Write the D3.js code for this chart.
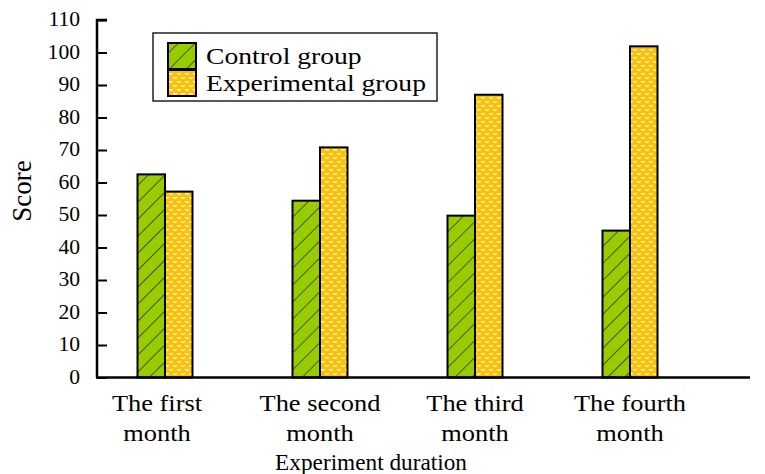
<!DOCTYPE html>
<html>
<head>
<meta charset="utf-8">
<script src="https://cdn.jsdelivr.net/npm/d3@7"></script>
<style>
  body { margin: 0; background: #fff; }
  svg text { font-family: "Liberation Serif", "Times New Roman", serif; fill: #000; }
</style>
</head>
<body>
<svg id="chart" width="765" height="474"></svg>
<script>
// donnees
const months = ["The first month", "The second month", "The third month", "The fourth month"];
const controlScores = [62.5, 54.4, 49.8, 45.2];
const experimentalScores = [57.2, 70.8, 87.0, 101.9];
const seriesNames = ["Control group", "Experimental group"];
const yTicks = [0, 10, 20, 30, 40, 50, 60, 70, 80, 90, 100, 110];

const svg = d3.select("#chart");
const axisX = 97, axisBottom = 377.5, axisTop = 20, axisRight = 750;
const barWidth = 27.5;

const y = d3.scaleLinear().domain([0, 110]).range([axisBottom, axisTop]);
const x = d3.scalePoint().domain(months).range([165, 630]);

// texte un peu etire horizontalement comme dans l'original
function stretched(sel, px, py, sx) {
  return sel.attr("transform", `translate(${px},${py}) scale(${sx},1)`);
}

// motifs
const defs = svg.append("defs");
const hatch = defs.append("pattern")
  .attr("id", "hatch").attr("patternUnits", "userSpaceOnUse")
  .attr("width", 12).attr("height", 12)
  .attr("patternTransform", "rotate(45)");
hatch.append("rect").attr("width", 12).attr("height", 12).attr("fill", "#99cc00");
hatch.append("line").attr("x1", 0).attr("y1", 0).attr("x2", 0).attr("y2", 12)
  .attr("stroke", "#3a4d00").attr("stroke-width", 1.8);

const dots = defs.append("pattern")
  .attr("id", "dots").attr("patternUnits", "userSpaceOnUse")
  .attr("width", 8).attr("height", 8);
dots.append("rect").attr("width", 8).attr("height", 8).attr("fill", "#ffc000");
dots.append("rect").attr("x", 1).attr("y", 1).attr("width", 4).attr("height", 1.6).attr("fill", "#fff6d8");
dots.append("rect").attr("x", 5).attr("y", 5).attr("width", 4).attr("height", 1.6).attr("fill", "#fff6d8");
dots.append("rect").attr("x", -3).attr("y", 5).attr("width", 4).attr("height", 1.6).attr("fill", "#fff6d8");

const fills = ["url(#hatch)", "url(#dots)"];

// barres
const groups = svg.append("g").selectAll("g")
  .data(months)
  .enter()
  .append("g");

groups.append("rect")
  .attr("x", d => x(d) - barWidth)
  .attr("y", (d, i) => y(controlScores[i]))
  .attr("width", barWidth)
  .attr("height", (d, i) => axisBottom - y(controlScores[i]))
  .attr("fill", fills[0])
  .attr("stroke", "#000").attr("stroke-width", 2);

groups.append("rect")
  .attr("x", d => x(d))
  .attr("y", (d, i) => y(experimentalScores[i]))
  .attr("width", barWidth)
  .attr("height", (d, i) => axisBottom - y(experimentalScores[i]))
  .attr("fill", fills[1])
  .attr("stroke", "#000").attr("stroke-width", 2);

// axe Y
const yAxis = svg.append("g")
  .attr("transform", `translate(${axisX},0)`)
  .call(d3.axisRight(y).tickValues(yTicks).tickSize(10).tickFormat(""));
yAxis.select(".domain").attr("d", `M10,${axisTop}H0V${axisBottom}`).attr("stroke-width", 2.5);
yAxis.selectAll(".tick line").attr("stroke-width", 2);

svg.append("g").selectAll("text")
  .data(yTicks)
  .enter()
  .append("text")
  .attr("text-anchor", "end")
  .attr("font-size", "20px")
  .each(function(d) { stretched(d3.select(this), 80, y(d) + 6, 1.08); })
  .text(d => d);

// axe X
svg.append("line")
  .attr("x1", axisX - 1).attr("x2", axisRight)
  .attr("y1", axisBottom).attr("y2", axisBottom)
  .attr("stroke", "#000").attr("stroke-width", 2.5);

const labels = svg.append("g").selectAll("text")
  .data(months)
  .enter()
  .append("text")
  .attr("text-anchor", "middle")
  .attr("font-size", "24px")
  .each(function(d, i) { stretched(d3.select(this), x(d) - (i == 0 ? 8 : 0), 411, 1.1); });
labels.append("tspan")
  .attr("x", 0).attr("y", 0)
  .text(d => d.replace(/ month$/, ""));
labels.append("tspan")
  .attr("x", 0).attr("y", 30)
  .text("month");

svg.append("text")
  .attr("text-anchor", "middle")
  .attr("font-size", "23.5px")
  .call(stretched, 371, 470, 0.99)
  .text("Experiment duration");

svg.append("text")
  .attr("transform", "translate(31,191) rotate(-90)")
  .attr("text-anchor", "middle")
  .attr("font-size", "27px")
  .text("Score");

// legende
const legend = svg.append("g");
legend.append("rect")
  .attr("x", 153).attr("y", 33).attr("width", 284).attr("height", 68)
  .attr("fill", "#fff").attr("stroke", "#222").attr("stroke-width", 1.5);

seriesNames.forEach((name, i) => {
  legend.append("rect")
    .attr("x", 168).attr("y", 43 + i * 27)
    .attr("width", 28).attr("height", 26)
    .attr("fill", fills[i]).attr("stroke", "#000").attr("stroke-width", 2);
  legend.append("text")
    .attr("font-size", "24px")
    .call(stretched, 206, 64 + i * 27, 1.15)
    .text(name);
});
</script>
</body>
</html>
